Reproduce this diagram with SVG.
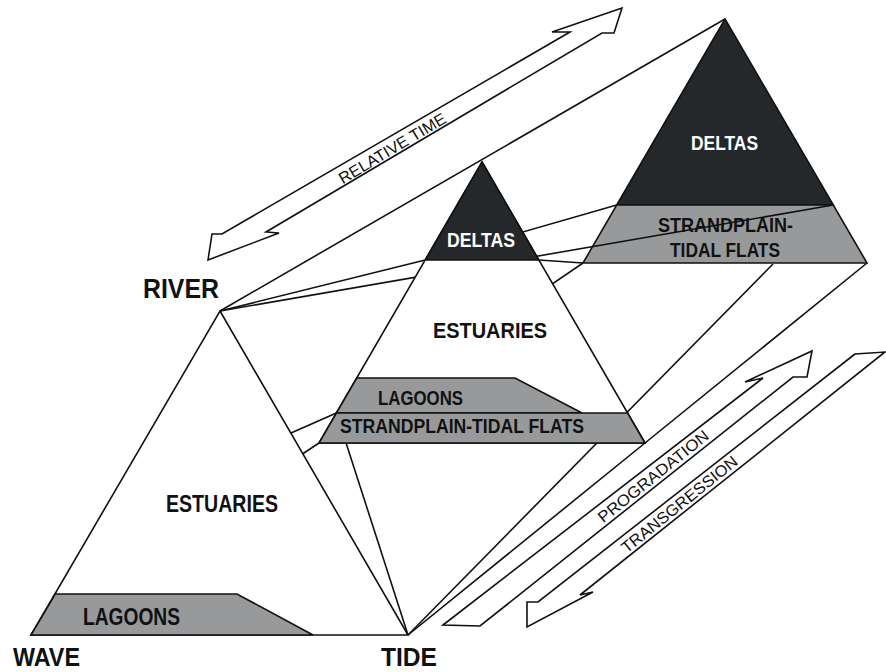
<svg xmlns="http://www.w3.org/2000/svg" width="886" height="672" viewBox="0 0 886 672">
<style>
.ln{stroke:#111;stroke-width:1.6;fill:none;stroke-linejoin:miter}
.w{fill:#fff;stroke:#111;stroke-width:1.6;stroke-linejoin:miter}
.dk{fill:#25282b;stroke:#111;stroke-width:1.6;stroke-linejoin:miter}
.gr{fill:#98999b;stroke:#111;stroke-width:1.6;stroke-linejoin:miter}
.lb{font-family:"Liberation Sans",Arial,sans-serif;font-weight:bold;fill:#111}
.ar{font-family:"Liberation Sans",Arial,sans-serif;font-weight:normal;fill:#111;font-size:16px}
</style>
<rect width="886" height="672" fill="#fff"/>
<g id="back-triangle">
<polygon class="dk" points="725,19 833.3,205 616.7,205"/>
<polygon class="gr" points="616.7,205 833.3,205 867,263 583,263"/>
</g>
<g id="connectors">
<line class="ln" x1="220" y1="311" x2="725" y2="19"/>
<line class="ln" x1="220" y1="311" x2="425.2" y2="260"/>
<line class="ln" x1="220" y1="311" x2="833.3" y2="205"/>
<line class="ln" x1="425.2" y1="260" x2="616.7" y2="205"/>
<line class="ln" x1="538.8" y1="260" x2="583" y2="263"/>
<polyline class="ln" points="31,635 319,443 583,263"/>
<polyline class="ln" points="408,635 645,443 867,263"/>
<line class="ln" x1="408" y1="635" x2="773" y2="264"/>
<line class="ln" x1="408" y1="635" x2="336.4" y2="413"/>
<line class="ln" x1="291" y1="433" x2="336.4" y2="413"/>
</g>
<g id="back-labels">
<text class="lb" x="691" y="150" font-size="21" textLength="67" lengthAdjust="spacingAndGlyphs" style="fill:#fff">DELTAS</text>
<text class="lb" x="658" y="232" font-size="20" textLength="135" lengthAdjust="spacingAndGlyphs">STRANDPLAIN-</text>
<text class="lb" x="670" y="257" font-size="20" textLength="110" lengthAdjust="spacingAndGlyphs">TIDAL FLATS</text>
</g>
<g id="middle-triangle">
<polygon class="w" points="482,162 645,443 319,443"/>
<polygon class="dk" points="482,162 538.8,260 425.2,260"/>
<polygon class="gr" points="356.7,378 515,378 582,413 336.4,413"/>
<polygon class="gr" points="336.4,413 627.6,413 645,443 319,443"/>
<text class="lb" x="447" y="247" font-size="21" textLength="68" lengthAdjust="spacingAndGlyphs" style="fill:#fff">DELTAS</text>
<text class="lb" x="433" y="338" font-size="22" textLength="114" lengthAdjust="spacingAndGlyphs">ESTUARIES</text>
<text class="lb" x="378" y="405" font-size="21" textLength="85" lengthAdjust="spacingAndGlyphs">LAGOONS</text>
<text class="lb" x="340" y="433" font-size="20" textLength="244" lengthAdjust="spacingAndGlyphs">STRANDPLAIN-TIDAL FLATS</text>
</g>
<g id="front-triangle">
<polygon class="w" points="220,311 408,635 31,635"/>
<polygon class="gr" points="55.2,594 237,594 313,635 31,635"/>
<text class="lb" x="166" y="512" font-size="23" textLength="112" lengthAdjust="spacingAndGlyphs">ESTUARIES</text>
<text class="lb" x="83" y="625" font-size="23" textLength="97" lengthAdjust="spacingAndGlyphs">LAGOONS</text>
</g>
<g id="label-river"><text class="lb" x="143" y="298" font-size="27" textLength="76" lengthAdjust="spacingAndGlyphs">RIVER</text></g>
<g id="label-wave"><text class="lb" x="13" y="666" font-size="26" textLength="67" lengthAdjust="spacingAndGlyphs">WAVE</text></g>
<g id="label-tide"><text class="lb" x="381" y="666" font-size="26" textLength="56" lengthAdjust="spacingAndGlyphs">TIDE</text></g>
<g id="arrow-relative-time">
<polygon class="w" points="208,260 212,234 222,234 570,32 552,32 622,8 614,33 602,33 266,232 279,233"/>
<text class="ar" transform="translate(392,148) rotate(-31)" x="0" y="6" text-anchor="middle" textLength="122" lengthAdjust="spacingAndGlyphs">RELATIVE TIME</text>
</g>
<g id="arrow-progradation">
<polygon class="w" points="443,625 763,378 745,382 812,351 807,377 793,377 480,626"/>
<text class="ar" transform="translate(653,476) rotate(-38.8)" x="0" y="6" text-anchor="middle" textLength="137" lengthAdjust="spacingAndGlyphs">PROGRADATION</text>
</g>
<g id="arrow-transgression">
<polygon class="w" points="855,354 538,602 527,602 527,627 593,592 580,595 885,352"/>
<text class="ar" transform="translate(679,504) rotate(-38.8)" x="0" y="6" text-anchor="middle" textLength="144" lengthAdjust="spacingAndGlyphs">TRANSGRESSION</text>
</g>
</svg>
